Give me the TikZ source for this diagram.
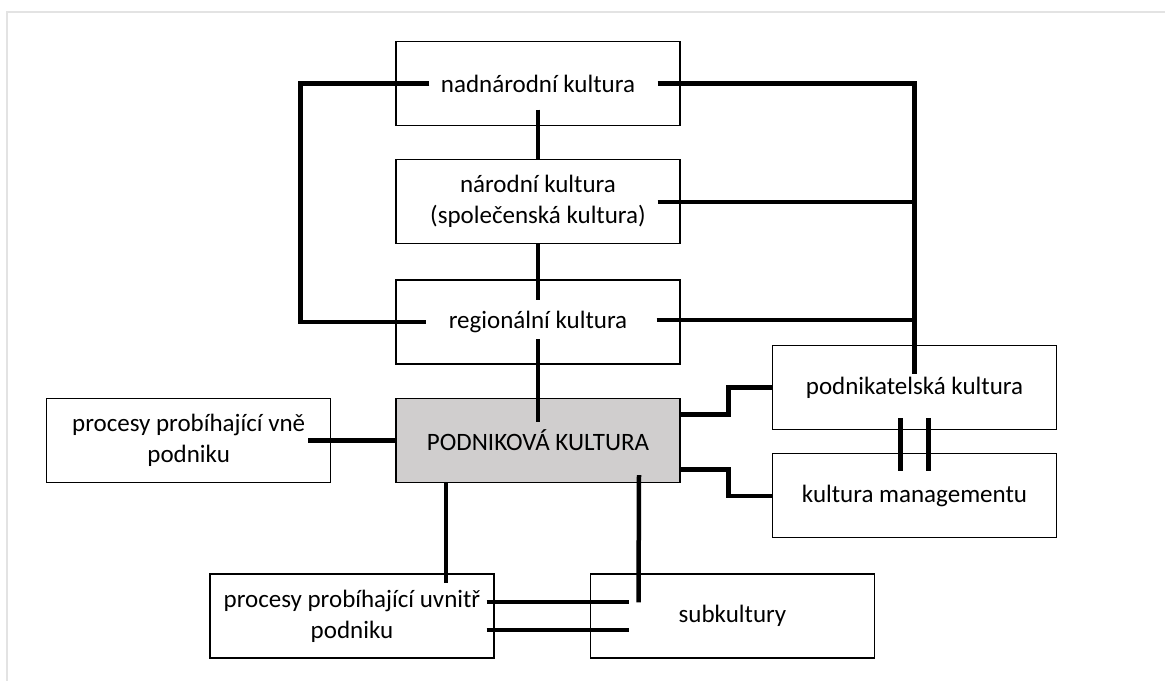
\documentclass[tikz,border=0pt]{standalone}
\usepackage{fontspec}
\setmainfont{Carlito}
\usepackage{tikz}
\usetikzlibrary{positioning}
\definecolor{podnikgray}{RGB}{208,206,206}
\tikzset{
	x=1pt, y=-1pt,
	every path/.style = {line width=4.5pt},
	box/.style = {draw, line width=1.3pt, rectangle, minimum width=284pt, minimum height=84pt,
		inner sep=0pt, align=center, font=\fontsize{25}{31}\selectfont}
}

\begin{document}
\begin{tikzpicture}[main/.style={box,fill=podnikgray}]
	\useasboundingbox (0,0) rectangle (1165,681);
	\draw[line width=1.5pt,gray!22] (7,681) -- (7,12) -- (1165,12);
	% levy sloupec
	\node[box] (nad) at (538,83.5) {nadnárodní kultura};
	\node[box] (narod) [below=33pt of nad] {národní kultura\\(společenská kultura)};
	\node[box] (region) [below=35pt of narod] {regionální kultura};
	\node[main] (podnik) [below=33pt of region] {PODNIKOVÁ KULTURA};
	\node[box] (vne) [left=64pt of podnik] {procesy probíhající vně\\podniku};
	% pravy sloupec
	\node[box] (podnikatel) at (914.5,387.5) {podnikatelská kultura};
	\node[box] (mgmt) [below=23pt of podnikatel] {kultura managementu};
	% dole
	\node[box] (uvnitr) at (352,616) {procesy probíhající uvnitř\\podniku};
	\node[box] (sub) at (732.5,616) {subkultury};
	\draw ([xshift=34pt]nad.west) -- ++(-129,0) |- ([xshift=31pt]region.west);
	\draw ([yshift=-26pt]nad.center) -- (narod.north);
	\draw (narod.south) -- ([yshift=22pt]region.center);
	\draw ([yshift=-17pt]region.center) -- ([yshift=18pt]podnik.center);
	\draw ([xshift=-23pt]nad.east) -| ([yshift=14pt]podnikatel.center);
	\draw ([xshift=-23pt]narod.east) -- (narod.east -| podnikatel.center);
	\draw ([xshift=-24pt,yshift=2pt]region.east) -- ([yshift=2pt]region.east -| podnikatel.center);
	\draw ([yshift=26pt]podnik.east) -- ++(48,0) |- (podnikatel.west);
	\draw ([yshift=-29pt]podnik.east) -- ++(48,0) |- (mgmt.west);
	\foreach \dx in {-14,14}
		\draw ([xshift=\dx pt,yshift=12pt]podnikatel.south) -- ([xshift=\dx pt,yshift=-18pt]mgmt.north);
	\draw ([xshift=-23pt]vne.east) -- (podnik.west);
	\draw ([xshift=-92pt]podnik.south) -- ([xshift=94pt,yshift=-10pt]uvnitr.north);
	\draw ([xshift=101pt,yshift=8pt]podnik.south) -- ([xshift=-94pt,yshift=-29pt]sub.north);
	\foreach \dy in {14,-14}
		\draw ([xshift=-8pt,yshift=\dy pt]uvnitr.east) -- ([xshift=39pt,yshift=\dy pt]sub.west);
\end{tikzpicture}
\end{document}
